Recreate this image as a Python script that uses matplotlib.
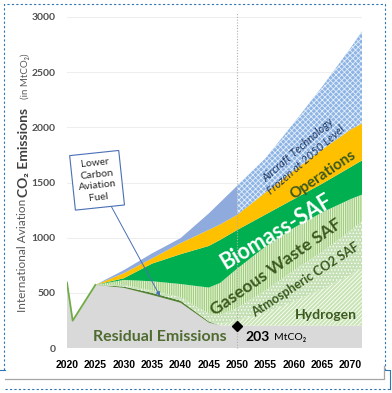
import matplotlib
matplotlib.use("Agg")
import matplotlib.pyplot as plt
from matplotlib.lines import Line2D
import numpy as np

plt.rcParams['font.family'] = ['Lato', 'DejaVu Sans']
plt.rcParams['hatch.linewidth'] = 0.6

# values (MtCO2), stacked bottom -> top
years = [2020, 2021, 2025, 2030, 2035, 2040, 2045, 2047, 2050, 2055, 2060, 2065, 2070, 2072]
residual = [593, 248, 572, 545, 480, 410, 230, 205, 203, 203, 203, 203, 203, 203]
lower_carbon_fuel = [0, 0, 0, 12, 20, 20, 10, 0, 0, 0, 0, 0, 0, 0]
hydrogen = [0, 0, 0, 0, 0, 0, 0, 10, 50, 120, 220, 330, 460, 520]
atmospheric_saf = [0, 0, 0, 15, 20, 30, 70, 85, 110, 200, 280, 340, 400, 430]
gaseous_waste_saf = [0, 0, 0, 45, 85, 120, 238, 290, 357, 397, 387, 357, 287, 237]
biomass_saf = [0, 0, 0, 15, 160, 270, 377, 390, 350, 290, 260, 260, 290, 310]
operations = [0, 0, 0, 46, 47, 100, 146, 140, 137, 200, 260, 310, 340, 335]
aircraft_tech = [0, 0, 0, 27, 46, 45, 149, 200, 263, 310, 430, 570, 740, 835]

xticks = [2020, 2025, 2030, 2035, 2040, 2045, 2050, 2055, 2060, 2065, 2070]
yticks = [0, 500, 1000, 1500, 2000, 2500, 3000]

W, H = 392, 393
fig = plt.figure(figsize=(W / 100, H / 100), dpi=100)
ax = fig.add_axes([67 / W, 1 - 348 / H, 295 / W, 331 / H])


def fpx(x, y):
    return x / W, 1 - y / H


x = np.array(years, dtype=float)
layers = [
    (residual, dict(facecolor='#d9d9d9', edgecolor='none')),
    (lower_carbon_fuel, dict(facecolor='#548235', edgecolor='none')),
    (hydrogen, dict(facecolor='#c9e4b4', edgecolor='white', hatch='////////')),
    (atmospheric_saf, dict(facecolor='#c5e0b4', edgecolor='white', hatch='.....')),
    (gaseous_waste_saf, dict(facecolor='#e6f2dc', edgecolor='#92c868', hatch='|||||||||')),
    (biomass_saf, dict(facecolor='#00b050', edgecolor='none')),
    (operations, dict(facecolor='#ffc000', edgecolor='none')),
]
base = np.zeros_like(x)
for vals, style in layers:
    top = base + np.array(vals, dtype=float)
    ax.fill_between(x, base, top, linewidth=0, zorder=2, **style)
    base = top

# aircraft technology: solid before 2050, hatched after
top = base + np.array(aircraft_tech, dtype=float)
ax.fill_between(x, base, top, where=x <= 2050, facecolor='#8faadc',
                edgecolor='none', linewidth=0, zorder=2)
ax.fill_between(x, base, top, where=x >= 2050, facecolor='#8db4e4',
                edgecolor='#e4eefa', hatch='xxxxxx', linewidth=0, zorder=2)

# green outline on early residual line
ax.plot(years[:3], residual[:3], color='#70ad47', lw=1.3, zorder=3)

# gridlines and 2050 marker line
for v in yticks[1:]:
    ax.axhline(v, color='#eeeeee', lw=0.8, zorder=0)
ax.plot([2050, 2050], [0, 3040], color='#b0b0b0', lw=0.8, ls=(0, (1, 1.5)),
        zorder=4, clip_on=False)
ax.plot([2050], [203], marker='D', color='black', ms=5, zorder=5)

ax.set_xlim(2020, 2072)
ax.set_ylim(0, 3000)
ax.set_xticks(xticks)
ax.set_xticklabels([str(t) for t in xticks], fontfamily='Liberation Sans',
                   fontweight='bold', fontsize=7.5, color='black')
ax.set_yticks(yticks)
ax.set_yticklabels([str(t) for t in yticks], fontweight='bold', fontsize=7.5,
                   color='#505050')
ax.tick_params(length=0, pad=9)
ax.tick_params(axis='y', pad=8)
for s in ax.spines.values():
    s.set_visible(False)

# labels on the areas
dg = '#3b5a1f'
ax.text(2036.4, 100, 'Residual Emissions', ha='center', va='center',
        fontsize=11.5, fontweight='bold', color='#4f6b30', zorder=6)
ax.text(2051.4, 100, '203', ha='left', va='center', fontsize=10,
        fontweight='bold', color='black', zorder=6)
ax.text(2056.4, 95, 'MtCO₂', ha='left', va='center', fontsize=7.5,
        color='black', zorder=6)
ax.text(2065.7, 300, 'Hydrogen', ha='center', va='center', fontsize=10,
        fontweight='bold', color=dg, zorder=6)
ax.text(2062.0, 617, 'Atmospheric CO2 SAF', ha='center', va='center',
        fontsize=9, fontweight='bold', color=dg, rotation=33, zorder=6)
ax.text(2056.8, 734, 'Gaseous Waste SAF', ha='center', va='center',
        fontsize=12.5, fontweight='bold', color=dg, rotation=35, zorder=6)
ax.text(2056.8, 1052, 'Biomass-SAF', ha='center', va='center',
        fontsize=15.5, fontweight='bold', color='white', rotation=31, zorder=6)
ax.text(2065.1, 1568, 'Operations', ha='center', va='center',
        fontsize=11, fontweight='bold', color=dg, rotation=34, zorder=6)
ax.text(2061.4, 1750, 'Aircraft Technology\nFrozen at 2050 Level',
        ha='center', va='center', fontsize=8, style='italic',
        color='#1f3864', rotation=41, linespacing=1.15, zorder=6)

ax.annotate('Lower\nCarbon\nAviation\nFuel', xy=(2036.4, 470),
            xytext=(2025.3, 1520), ha='center', va='center', fontsize=7.5,
            rotation=6, color='#262626', linespacing=1.35, zorder=7,
            bbox=dict(boxstyle='square,pad=0.55', fc='white', ec='#4a6fb5',
                      lw=0.8),
            arrowprops=dict(arrowstyle='-|>', color='#4a6fb5', lw=0.7,
                            mutation_scale=6, shrinkA=0, shrinkB=0))

# y axis title in three pieces
fig.text(*fpx(23, 255), 'International Aviation', rotation=90, ha='center',
         va='center', fontsize=8.5, color='#595959')
fig.text(*fpx(24, 152), 'CO₂ Emissions', rotation=90, ha='center',
         va='center', fontsize=10, fontweight='bold', color='#404040')
fig.text(*fpx(25, 76), '(in MtCO₂)', rotation=90, ha='center', va='center',
         fontsize=7, color='#595959')

# frame decorations
blue = '#2e75b6'


def seg(pts, **kw):
    xs, ys = zip(*[fpx(a, b) for a, b in pts])
    fig.add_artist(Line2D(xs, ys, transform=fig.transFigure, **kw))


dash = dict(color=blue, lw=0.8, ls=(0, (2, 2)))
seg([(4, 370), (4, 4), (385, 4), (385, 370)], **dash)
seg([(0, 370), (5, 370)], color=blue, lw=0.8)
seg([(385, 370), (390, 370), (390, 389)], color=blue, lw=0.8)
seg([(5, 379), (384, 379), (384, 366)], color='#a6a6a6', lw=0.9)
seg([(5, 389), (392, 389)], **dash)

fig.savefig('out.png', dpi=100)
